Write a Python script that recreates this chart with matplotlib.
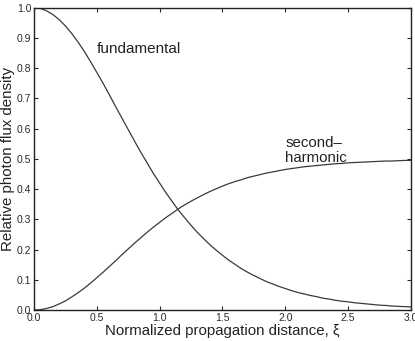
import matplotlib
matplotlib.use("Agg")
import matplotlib.pyplot as plt

plt.rcParams['font.family'] = ['Liberation Sans', 'DejaVu Sans']

# values at steps of 0.05
xi = [0.00, 0.05, 0.10, 0.15, 0.20, 0.25, 0.30, 0.35, 0.40, 0.45,
      0.50, 0.55, 0.60, 0.65, 0.70, 0.75, 0.80, 0.85, 0.90, 0.95,
      1.00, 1.05, 1.10, 1.15, 1.20, 1.25, 1.30, 1.35, 1.40, 1.45,
      1.50, 1.55, 1.60, 1.65, 1.70, 1.75, 1.80, 1.85, 1.90, 1.95,
      2.00, 2.05, 2.10, 2.15, 2.20, 2.25, 2.30, 2.35, 2.40, 2.45,
      2.50, 2.55, 2.60, 2.65, 2.70, 2.75, 2.80, 2.85, 2.90, 2.95, 3.00]
fundamental = [1.000, 0.998, 0.990, 0.978, 0.961, 0.940, 0.915, 0.887, 0.856, 0.822,
               0.786, 0.750, 0.712, 0.673, 0.635, 0.597, 0.559, 0.522, 0.487, 0.452,
               0.420, 0.388, 0.359, 0.330, 0.305, 0.280, 0.257, 0.236, 0.216, 0.198,
               0.181, 0.165, 0.151, 0.137, 0.125, 0.114, 0.104, 0.094, 0.086, 0.078,
               0.071, 0.064, 0.058, 0.053, 0.048, 0.044, 0.039, 0.036, 0.032, 0.029,
               0.027, 0.024, 0.022, 0.020, 0.018, 0.016, 0.015, 0.013, 0.012, 0.011, 0.010]
second_harmonic = [0.000, 0.001, 0.005, 0.011, 0.020, 0.030, 0.043, 0.057, 0.072, 0.089,
                   0.107, 0.125, 0.144, 0.163, 0.183, 0.202, 0.221, 0.239, 0.257, 0.274,
                   0.290, 0.306, 0.320, 0.335, 0.348, 0.360, 0.371, 0.382, 0.392, 0.401,
                   0.410, 0.418, 0.425, 0.431, 0.438, 0.443, 0.448, 0.453, 0.457, 0.461,
                   0.465, 0.468, 0.471, 0.474, 0.476, 0.478, 0.480, 0.482, 0.484, 0.485,
                   0.487, 0.488, 0.489, 0.490, 0.491, 0.492, 0.493, 0.493, 0.494, 0.495, 0.495]
x_ticks = [0.0, 0.5, 1.0, 1.5, 2.0, 2.5, 3.0]
y_ticks = [0.0, 0.1, 0.2, 0.3, 0.4, 0.5, 0.6, 0.7, 0.8, 0.9, 1.0]

fig = plt.figure(figsize=(4.15, 3.41), dpi=100)
ax = fig.add_axes([0.082, 0.091, 0.908, 0.886])

ax.plot(xi, fundamental, color='#3a3a3a', lw=0.9)
ax.plot(xi, second_harmonic, color='#3a3a3a', lw=0.9)

ax.set_xlim(0, 3)
ax.set_ylim(0, 1)
ax.set_xticks(x_ticks)
ax.set_yticks(y_ticks)
ax.set_xticklabels([f'{t:.1f}' for t in x_ticks])
ax.set_yticklabels([f'{t:.1f}' for t in y_ticks])
ax.tick_params(direction='in', top=True, right=True, labelsize=7.5,
               length=3, width=0.8, pad=2, colors='#2a2a2a')
for s in ax.spines.values():
    s.set_linewidth(1.0)
    s.set_color('#222222')

ax.text(0.5, 0.85, 'fundamental', fontsize=11, color='#222222')
ax.text(2.0, 0.49, 'second–\nharmonic', fontsize=10.8, color='#222222', linespacing=1.1)

ax.set_xlabel('Normalized propagation distance, ξ', fontsize=10.8, labelpad=1, color='#222222')
ax.set_ylabel('Relative photon flux density', fontsize=10.8, labelpad=1, color='#222222')

fig.savefig('out.png', dpi=100)
